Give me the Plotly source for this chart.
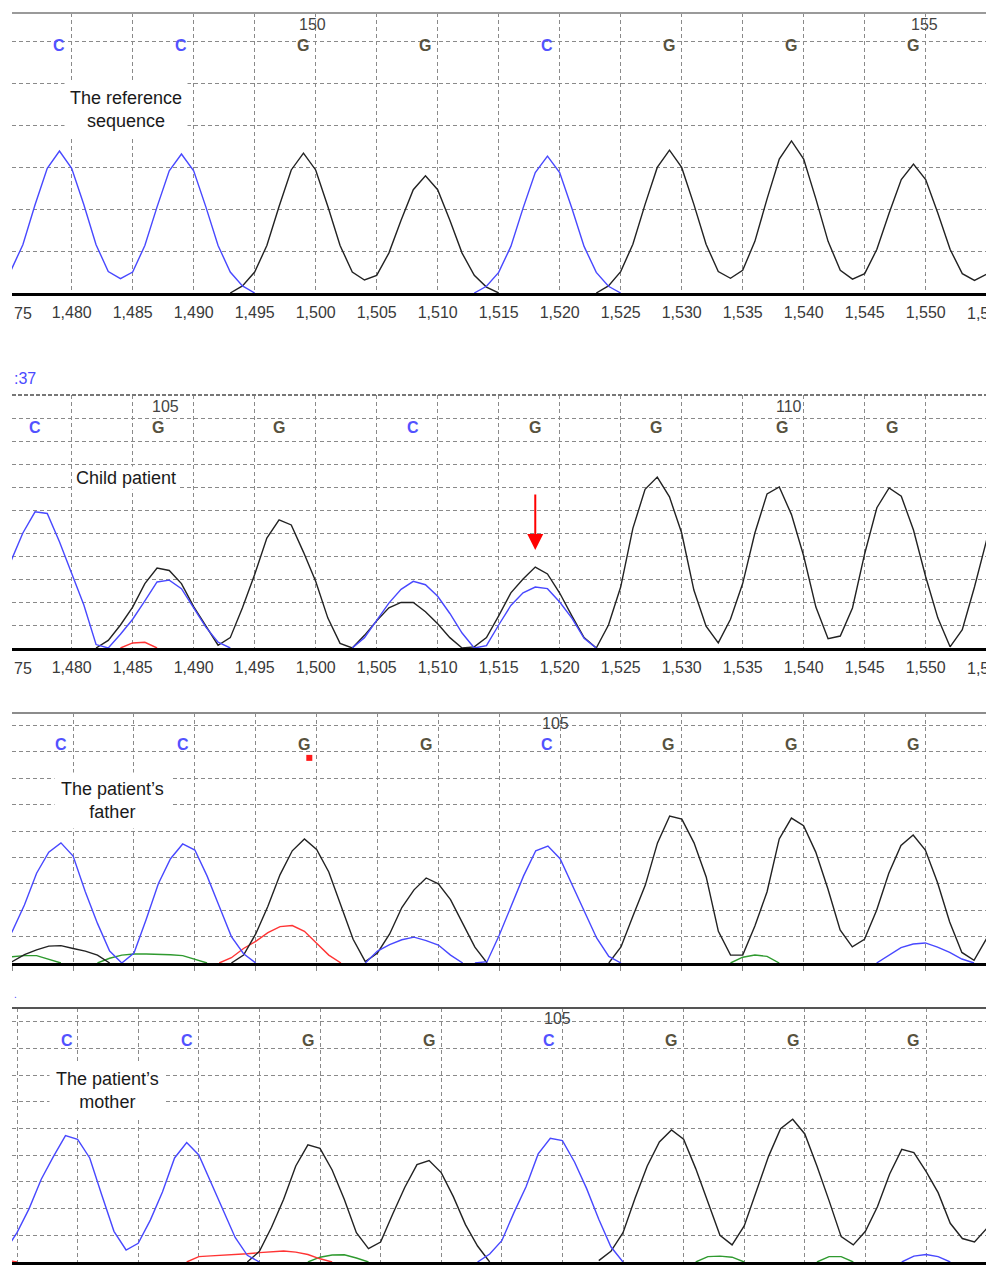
import plotly.graph_objects as go

# ---------------- DATA (signal values sampled at each scan position) ----------------
# Each channel: list of (first_scan_position, [values at consecutive positions])
TICK_POSITIONS = [1475, 1480, 1485, 1490, 1495, 1500, 1505, 1510, 1515, 1520,
                  1525, 1530, 1535, 1540, 1545, 1550, 1555]

# Panel 1: the reference sequence
REF_C = [(1475, [52, 115, 210, 297, 338, 297, 210, 115, 51, 34, 50, 113, 205, 291, 331, 291, 205, 113, 50, 17, 0]),
         (1513, [0, 16, 49, 111, 202, 287, 326, 287, 202, 111, 49, 16, 0])]
REF_G = [(1493, [0, 17, 50, 113, 206, 293, 333, 293, 206, 113, 50, 31, 42, 95, 173, 246, 279, 246, 173, 95, 42, 14, 0]),
         (1523, [0, 17, 51, 116, 211, 299, 340, 299, 211, 116, 51, 35, 54, 123, 224, 319, 362, 319, 224, 123, 54, 33,
                 46, 104, 190, 270, 307, 270, 190, 104, 46, 30, 45, 102])]
REF_T = []
REF_A = []
REF_BASES = ["C", "C", "G", "G", "C", "G", "G", "G"]
REF_BASE_POS = [1479, 1489, 1499, 1509, 1519, 1529, 1539, 1549]
REF_NUMBERS = ["150", "155"]
REF_NUMBER_POS = [1499.7, 1549.9]

# Panel 2: child patient
CHILD_C = [(1474, [250, 374, 500, 592, 585, 462, 326, 187, 15, 0, 60, 125, 205, 287, 295, 258, 174, 91, 25, 0]),
           (1503, [0, 45, 120, 195, 255, 290, 275, 225, 150, 65, 0, 10, 100, 185, 240, 265, 258, 200, 130, 42, 0])]
CHILD_G = [(1482, [0, 33, 100, 178, 280, 348, 337, 280, 180, 95, 12, 45, 175, 320, 478, 557, 535, 417, 290, 130,
                   20, 0, 55, 118, 175, 198, 198, 158, 105, 45, 0, 5, 45, 140, 240, 300, 352, 322, 239, 140, 45, 0,
                   100, 265, 520, 690, 743, 657, 500, 252, 95, 22, 125, 280, 500, 670, 700, 580, 400, 178, 40, 52,
                   174, 410, 610, 696, 660, 513, 310, 130, 5, 80, 265, 470, 620])]
CHILD_T = [(1484, [0, 22, 25, 0])]
CHILD_A = []
CHILD_BASES = ["C", "G", "G", "C", "G", "G", "G", "G"]
CHILD_BASE_POS = [1477, 1487.1, 1497, 1508, 1518, 1527.9, 1538.2, 1547.2]
CHILD_NUMBERS = ["105", "110"]
CHILD_NUMBER_POS = [1487.7, 1538.8]
ARROW_POS = 1518
ARROW_TIP = 426
ARROW_TAIL = 674

# Panel 3: the patient's father
FATHER_C = [(1474, [40, 120, 220, 340, 420, 455, 405, 270, 150, 45, 0, 38, 165, 300, 395, 451, 428, 330, 215, 100, 35, 0]),
            (1504, [0, 45, 70, 88, 98, 85, 68, 30, 0]),
            (1513, [0, 5, 105, 220, 330, 425, 443, 395, 295, 189, 95, 25, 0]),
            (1546, [0, 30, 58, 72, 76, 60, 40, 15, 0])]
FATHER_G = [(1474, [0, 5, 32, 50, 64, 66, 55, 45, 30, 0]),
            (1493, [0, 30, 110, 215, 335, 425, 470, 430, 345, 220, 90, 5, 38, 110, 210, 277, 322, 300, 240, 150, 60, 0]),
            (1524, [0, 61, 180, 295, 455, 557, 545, 455, 326, 120, 30, 30, 140, 270, 470, 549, 520, 420, 280, 125,
                    61, 90, 200, 340, 445, 485, 428, 305, 155, 40, 10, 90, 150])]
FATHER_T = [(1492, [0, 20, 55, 82, 115, 138, 142, 120, 75, 30, 0])]
FATHER_A = [(1474, [20, 23, 28, 28, 15, 0]),
            (1482, [0, 18, 30, 34, 34, 33, 31, 28, 15, 0]),
            (1534, [0, 22, 30, 25, 0])]
FATHER_BASES = ["C", "C", "G", "G", "C", "G", "G", "G"]
FATHER_BASE_POS = [1479, 1489, 1499, 1509, 1518.9, 1528.9, 1539, 1549]
FATHER_NUMBERS = ["105"]
FATHER_NUMBER_POS = [1519.6]
FATHER_FLAG_POS = [1499.4]
FATHER_FLAG_VAL = [777]

# Panel 4: the patient's mother
MOTHER_C = [(1474, [40, 110, 200, 310, 395, 474, 460, 390, 250, 115, 45, 70, 157, 262, 390, 448, 401, 300, 195, 92, 25, 0]),
            (1513, [0, 30, 80, 185, 282, 405, 464, 455, 375, 275, 160, 57, 0]),
            (1548, [0, 22, 28, 20, 0])]
MOTHER_G = [(1494, [0, 40, 130, 235, 360, 439, 426, 345, 235, 110, 50, 75, 180, 280, 365, 380, 335, 245, 140, 60, 0]),
            (1523, [5, 40, 110, 240, 360, 450, 495, 460, 350, 225, 100, 64, 135, 265, 395, 500, 535, 480, 360, 230,
                    95, 64, 115, 208, 330, 422, 410, 340, 260, 145, 88, 75, 125, 185])]
MOTHER_T = [(1474, [8, 0]),
            (1489, [0, 20, 23, 25, 28, 31, 35, 38, 41, 37, 28, 12, 0])]
MOTHER_A = [(1499, [0, 18, 26, 27, 15, 0]),
            (1531, [0, 20, 22, 18, 0]),
            (1541, [0, 20, 20, 0])]
MOTHER_BASES = ["C", "C", "G", "G", "C", "G", "G", "G"]
MOTHER_BASE_POS = [1479.1, 1489, 1499, 1509, 1518.9, 1529, 1539, 1548.9]
MOTHER_NUMBERS = ["105"]
MOTHER_NUMBER_POS = [1519.6]

PANEL_TITLES = ["The reference<br>sequence", "Child patient", "The patient\u2019s<br>father", "The patient\u2019s<br>mother"]

# ---------------- STYLE / LAYOUT ----------------
OFF = 8                      # page body margin in the browser
W, H = 994 - OFF, 1265 - OFF
ML = 12 - OFF
PW = W - ML

COLORS = {"A": "#2f9a2f", "T": "#ff3434", "G": "#222222", "C": "#4848ff"}
LABEL_COLORS = {"C": "#5252ff", "G": "#57523f"}
GRID = "#8a8a8a"
DASH = "4px,3px"


def px2paper_x(px):
    return (px - OFF - ML) / PW


def px2paper_y(py):
    return 1 - (py - OFF) / H


def seg_xy(segs):
    xs, ys = [], []
    for x0, vals in segs:
        if xs:
            xs.append(None)
            ys.append(None)
        xs.extend(range(x0, x0 + len(vals)))
        ys.extend(vals)
    return xs, ys


panels = [
    dict(channels={"A": REF_A, "T": REF_T, "G": REF_G, "C": REF_C},
         bases=REF_BASES, base_pos=REF_BASE_POS, nums=REF_NUMBERS, num_pos=REF_NUMBER_POS,
         top=13, bottom=293, xr=[1475.11, 1555.6], yr=[0, 666.7], yt=list(range(100, 601, 100)),
         base_y=590, num_y=640, labels=True, label_py=313,
         topline=dict(color="#9a9a9a", width=2, dash="solid"),
         title_px=(126, 109), title_pad=5),
    dict(channels={"A": CHILD_A, "T": CHILD_T, "G": CHILD_G, "C": CHILD_C},
         bases=CHILD_BASES, base_pos=CHILD_BASE_POS, nums=CHILD_NUMBERS, num_pos=CHILD_NUMBER_POS,
         top=395, bottom=648, xr=[1475.11, 1555.6], yr=[0, 1100], yt=list(range(100, 1101, 100)),
         base_y=957, num_y=1048, labels=True, label_py=668,
         topline=dict(color="#777777", width=2, dash="4px,2px"),
         title_px=(126, 478), title_pad=1),
    dict(channels={"A": FATHER_A, "T": FATHER_T, "G": FATHER_G, "C": FATHER_C},
         bases=FATHER_BASES, base_pos=FATHER_BASE_POS, nums=FATHER_NUMBERS, num_pos=FATHER_NUMBER_POS,
         top=713, bottom=963, xr=[1474.98, 1555.64], yr=[0, 947], yt=list(range(100, 901, 100)),
         base_y=826, num_y=909, labels=False, label_py=None,
         topline=dict(color="#8c8c8c", width=2, dash="solid"),
         title_px=(112, 800), title_pad=6),
    dict(channels={"A": MOTHER_A, "T": MOTHER_T, "G": MOTHER_G, "C": MOTHER_C},
         bases=MOTHER_BASES, base_pos=MOTHER_BASE_POS, nums=MOTHER_NUMBERS, num_pos=MOTHER_NUMBER_POS,
         top=1008, bottom=1262, xr=[1474.587, 1555.61], yr=[0, 952], yt=list(range(100, 901, 100)),
         base_y=829, num_y=911, labels=False, label_py=None,
         topline=dict(color="#555555", width=2, dash="solid"),
         title_px=(107, 1090), title_pad=6),
]

TICK_FONT = dict(family="Liberation Sans", size=16, color="#3a3a3a")

fig = go.Figure()
annotations = []
shapes = []
layout = dict(width=W, height=H, margin=dict(l=ML, r=0, t=0, b=0),
              paper_bgcolor="white", plot_bgcolor="white", showlegend=False)

for i, p in enumerate(panels):
    n = "" if i == 0 else str(i + 1)
    xa, ya = "x" + n, "y" + n
    for ch in ["A", "T", "G", "C"]:
        segs = p["channels"][ch]
        if not segs:
            continue
        xs, ys = seg_xy(segs)
        fig.add_trace(go.Scatter(x=xs, y=ys, mode="lines", xaxis=xa, yaxis=ya,
                                 line=dict(color=COLORS[ch], width=1.4), hoverinfo="skip"))
    dom = [px2paper_y(p["bottom"]), px2paper_y(p["top"])]
    layout["xaxis" + n] = dict(domain=[0, 1], anchor=ya, range=p["xr"], tickvals=TICK_POSITIONS,
                               tickformat=",d", showticklabels=p["labels"], tickfont=TICK_FONT,
                               ticks="outside" if i == 2 else "", ticklen=5, tickcolor="#888",
                               ticklabelstandoff=3,
                               showgrid=True, gridcolor=GRID, griddash=DASH, gridwidth=1,
                               showline=True, linecolor="black", linewidth=3, zeroline=False)
    layout["yaxis" + n] = dict(domain=dom, anchor=xa, range=p["yr"], tickvals=p["yt"],
                               showticklabels=False, ticks="", showgrid=True, gridcolor=GRID,
                               griddash=DASH, gridwidth=1, zeroline=False, showline=False)
    shapes.append(dict(type="line", xref="paper", yref=ya + " domain", x0=0, x1=1, y0=1, y1=1,
                       line=p["topline"], layer="above"))
    for b, bx in zip(p["bases"], p["base_pos"]):
        annotations.append(dict(x=bx, y=p["base_y"], xref=xa, yref=ya, text="<b>" + b + "</b>",
                                showarrow=False, xanchor="center", yanchor="middle",
                                font=dict(family="Liberation Sans", size=16, color=LABEL_COLORS[b])))
    for t, tx in zip(p["nums"], p["num_pos"]):
        annotations.append(dict(x=tx, y=p["num_y"], xref=xa, yref=ya, text=t, showarrow=False,
                                xanchor="center", yanchor="middle",
                                font=dict(family="Liberation Sans", size=16, color="#444444")))
    tx, ty = p["title_px"]
    annotations.append(dict(x=px2paper_x(tx), y=px2paper_y(ty), xref="paper", yref="paper",
                            xanchor="center", yanchor="middle",
                            text=PANEL_TITLES[i], showarrow=False, bgcolor="white",
                            borderpad=p["title_pad"], align="center",
                            font=dict(family="Liberation Sans", size=18, color="#1a1a1a")))
    if p["labels"]:
        # tick labels cut by the image edges on both sides
        annotations.append(dict(x=0, y=px2paper_y(p["label_py"]), xref="paper", yref="paper",
                                xanchor="left", yanchor="middle", text="75", showarrow=False, font=TICK_FONT))
        annotations.append(dict(x=TICK_POSITIONS[-1], y=px2paper_y(p["label_py"]), xref=xa, yref="paper",
                                xanchor="center", yanchor="middle", text="1,555", showarrow=False,
                                font=TICK_FONT))

# father flag marker
fig.add_trace(go.Scatter(x=FATHER_FLAG_POS, y=FATHER_FLAG_VAL, mode="markers", xaxis="x3", yaxis="y3",
                         marker=dict(symbol="square", size=6, color="#ff1a1a"), hoverinfo="skip"))

# red arrow on child panel
annotations.append(dict(x=ARROW_POS, y=ARROW_TIP, ax=ARROW_POS, ay=ARROW_TAIL, xref="x2", yref="y2",
                        axref="x2", ayref="y2", text="", showarrow=True, arrowhead=2, arrowsize=1.6,
                        arrowwidth=2, arrowcolor="#ff0000"))

# clipped leftover texts at the left edge
annotations.append(dict(x=0, y=px2paper_y(378), xref="paper", yref="paper", xanchor="left", yanchor="middle",
                        text=":37", showarrow=False,
                        font=dict(family="Liberation Sans", size=16, color="#4a4aff")))
annotations.append(dict(x=0, y=px2paper_y(994), xref="paper", yref="paper", xanchor="left", yanchor="middle",
                        text=".", showarrow=False,
                        font=dict(family="Liberation Sans", size=10, color="#4a4aff")))

layout["annotations"] = annotations
layout["shapes"] = shapes
fig.update_layout(**layout)
fig.write_html("out.html")
